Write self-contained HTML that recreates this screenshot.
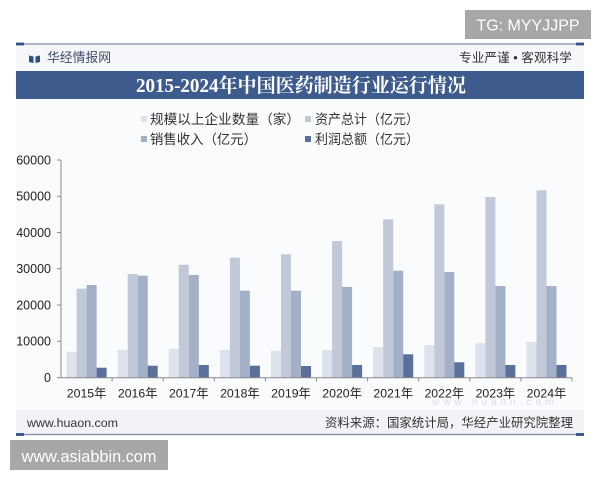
<!DOCTYPE html>
<html><head><meta charset="utf-8"><style>
html,body{margin:0;padding:0;background:#fff;width:600px;height:480px;overflow:hidden}
svg{display:block}
text{font-family:"Liberation Sans","Noto Sans CJK SC",sans-serif}
</style></head><body>
<svg width="600" height="480" viewBox="0 0 600 480" xmlns="http://www.w3.org/2000/svg">
<rect x="0" y="0" width="600" height="480" fill="#ffffff"/>
<!-- TG box -->
<rect x="465" y="10" width="126" height="29" fill="#a7a7a7"/>
<text x="528" y="30.3" font-size="16" fill="#fff" text-anchor="middle">TG: MYYJJPP</text>
<!-- card backgrounds -->
<rect x="16" y="45" width="568" height="26" fill="#f5f7fa"/>
<rect x="16" y="99" width="568" height="311" fill="#fafbfd"/>
<rect x="16" y="410" width="568" height="24" fill="#f1f3f6"/>
<!-- top line -->
<rect x="16" y="43.3" width="568" height="1.4" fill="#8a95a8"/>
<rect x="16" y="42.6" width="8" height="2.8" fill="#34528a"/>
<rect x="576" y="42.6" width="8" height="2.8" fill="#34528a"/>
<!-- header -->
<path d="M29 55.5 L33.5 56.5 L33.5 63 L29 62 Z M35.5 56.5 L40 55.5 L40 62 L35.5 63 Z" fill="#2f4f86"/>
<text x="47" y="62" font-size="12.8" fill="#3d4a66" textLength="64" lengthAdjust="spacingAndGlyphs">华经情报网</text>
<text x="459" y="62" font-size="12.5" fill="#333" textLength="113" lengthAdjust="spacingAndGlyphs">专业严谨 • 客观科学</text>
<!-- title band -->
<rect x="16" y="71" width="568" height="28" fill="#3d5b8d"/>
<text x="301" y="92" font-size="19.5" font-weight="bold" fill="#fff" text-anchor="middle" style="font-family:'Liberation Serif','Noto Serif CJK SC',serif" textLength="330" lengthAdjust="spacingAndGlyphs">2015-2024年中国医药制造行业运行情况</text>
<!-- legend -->
<rect x="141" y="116" width="6" height="6" fill="#dde2ec"/>
<text x="150" y="124" font-size="13.5" fill="#333" textLength="150" lengthAdjust="spacingAndGlyphs">规模以上企业数量（家）</text>
<rect x="305" y="116" width="6" height="6" fill="#c1c9d9"/>
<text x="315" y="124" font-size="13.5" fill="#333" textLength="104" lengthAdjust="spacingAndGlyphs">资产总计（亿元）</text>
<rect x="141" y="136" width="6" height="6" fill="#a3b0c8"/>
<text x="150" y="144" font-size="13.5" fill="#333" textLength="107" lengthAdjust="spacingAndGlyphs">销售收入（亿元）</text>
<rect x="305" y="136" width="6" height="6" fill="#5a6f9a"/>
<text x="315" y="144" font-size="13.5" fill="#333" textLength="104" lengthAdjust="spacingAndGlyphs">利润总额（亿元）</text>
<!-- y axis labels -->
<g font-size="12.5" fill="#222" text-anchor="end">
<text x="51" y="164.5">60000</text>
<text x="51" y="200.7">50000</text>
<text x="51" y="237">40000</text>
<text x="51" y="273.2">30000</text>
<text x="51" y="309.5">20000</text>
<text x="51" y="345.7">10000</text>
<text x="51" y="382">0</text>
</g>
<!-- bars -->
<g id="bars">
<!-- 2015 -->
<rect x="66.6" y="351.7" width="10" height="26" fill="#dde2ec"/>
<rect x="76.6" y="288.7" width="10" height="89" fill="#c1c9d9"/>
<rect x="86.6" y="285" width="10" height="92.7" fill="#a3b0c8"/>
<rect x="96.6" y="367.7" width="10" height="10" fill="#5a6f9a"/>
<!-- 2016 -->
<rect x="117.7" y="350" width="10" height="27.7" fill="#dde2ec"/>
<rect x="127.7" y="274" width="10" height="103.7" fill="#c1c9d9"/>
<rect x="137.7" y="275.7" width="10" height="102" fill="#a3b0c8"/>
<rect x="147.7" y="365.7" width="10" height="12" fill="#5a6f9a"/>
<!-- 2017 -->
<rect x="168.8" y="348.7" width="10" height="29" fill="#dde2ec"/>
<rect x="178.8" y="264.7" width="10" height="113" fill="#c1c9d9"/>
<rect x="188.8" y="275" width="10" height="102.7" fill="#a3b0c8"/>
<rect x="198.8" y="365" width="10" height="12.7" fill="#5a6f9a"/>
<!-- 2018 -->
<rect x="219.9" y="350" width="10" height="27.7" fill="#dde2ec"/>
<rect x="229.9" y="257.7" width="10" height="120" fill="#c1c9d9"/>
<rect x="239.9" y="290.7" width="10" height="87" fill="#a3b0c8"/>
<rect x="249.9" y="365.7" width="10" height="12" fill="#5a6f9a"/>
<!-- 2019 -->
<rect x="271" y="350.7" width="10" height="27" fill="#dde2ec"/>
<rect x="281" y="254.3" width="10" height="123.4" fill="#c1c9d9"/>
<rect x="291" y="290.7" width="10" height="87" fill="#a3b0c8"/>
<rect x="301" y="366" width="10" height="11.7" fill="#5a6f9a"/>
<!-- 2020 -->
<rect x="322.1" y="350" width="10" height="27.7" fill="#dde2ec"/>
<rect x="332.1" y="241" width="10" height="136.7" fill="#c1c9d9"/>
<rect x="342.1" y="287" width="10" height="90.7" fill="#a3b0c8"/>
<rect x="352.1" y="365" width="10" height="12.7" fill="#5a6f9a"/>
<!-- 2021 -->
<rect x="373.2" y="347" width="10" height="30.7" fill="#dde2ec"/>
<rect x="383.2" y="219.3" width="10" height="158.4" fill="#c1c9d9"/>
<rect x="393.2" y="270.7" width="10" height="107" fill="#a3b0c8"/>
<rect x="403.2" y="354.3" width="10" height="23.4" fill="#5a6f9a"/>
<!-- 2022 -->
<rect x="424.3" y="345" width="10" height="32.7" fill="#dde2ec"/>
<rect x="434.3" y="204.3" width="10" height="173.4" fill="#c1c9d9"/>
<rect x="444.3" y="272" width="10" height="105.7" fill="#a3b0c8"/>
<rect x="454.3" y="362.3" width="10" height="15.4" fill="#5a6f9a"/>
<!-- 2023 -->
<rect x="475.4" y="343.3" width="10" height="34.4" fill="#dde2ec"/>
<rect x="485.4" y="197" width="10" height="180.7" fill="#c1c9d9"/>
<rect x="495.4" y="286" width="10" height="91.7" fill="#a3b0c8"/>
<rect x="505.4" y="365" width="10" height="12.7" fill="#5a6f9a"/>
<!-- 2024 -->
<rect x="526.5" y="341.7" width="10" height="36" fill="#dde2ec"/>
<rect x="536.5" y="190.3" width="10" height="187.4" fill="#c1c9d9"/>
<rect x="546.5" y="286" width="10" height="91.7" fill="#a3b0c8"/>
<rect x="556.5" y="365" width="10" height="12.7" fill="#5a6f9a"/>
</g>
<!-- axes -->
<g stroke="#8a8a8a" stroke-width="1" fill="none">
<line x1="61" y1="160" x2="61" y2="378"/>
<line x1="61" y1="377.7" x2="572" y2="377.7"/>
<line x1="57" y1="160" x2="61" y2="160"/>
<line x1="57" y1="196.25" x2="61" y2="196.25"/>
<line x1="57" y1="232.5" x2="61" y2="232.5"/>
<line x1="57" y1="268.75" x2="61" y2="268.75"/>
<line x1="57" y1="305" x2="61" y2="305"/>
<line x1="57" y1="341.25" x2="61" y2="341.25"/>
<line x1="57" y1="377.7" x2="61" y2="377.7"/>
<line x1="112.1" y1="377.7" x2="112.1" y2="381.5"/>
<line x1="163.2" y1="377.7" x2="163.2" y2="381.5"/>
<line x1="214.3" y1="377.7" x2="214.3" y2="381.5"/>
<line x1="265.4" y1="377.7" x2="265.4" y2="381.5"/>
<line x1="316.5" y1="377.7" x2="316.5" y2="381.5"/>
<line x1="367.6" y1="377.7" x2="367.6" y2="381.5"/>
<line x1="418.7" y1="377.7" x2="418.7" y2="381.5"/>
<line x1="469.8" y1="377.7" x2="469.8" y2="381.5"/>
<line x1="520.9" y1="377.7" x2="520.9" y2="381.5"/>
<line x1="572" y1="377.7" x2="572" y2="381.5"/>
</g>
<!-- x labels -->
<g font-size="12.3" fill="#222" text-anchor="middle">
<text x="86.6" y="397.5">2015年</text>
<text x="137.7" y="397.5">2016年</text>
<text x="188.8" y="397.5">2017年</text>
<text x="239.9" y="397.5">2018年</text>
<text x="291" y="397.5">2019年</text>
<text x="342.1" y="397.5">2020年</text>
<text x="393.2" y="397.5">2021年</text>
<text x="444.3" y="397.5">2022年</text>
<text x="495.4" y="397.5">2023年</text>
<text x="546.5" y="397.5">2024年</text>
</g>
<!-- faint watermark -->
<text x="432" y="405" font-size="10" fill="#d9dee6" letter-spacing="4">www.huaon.com</text>
<!-- footer -->
<text x="27" y="427" font-size="12.4" fill="#333" textLength="91" lengthAdjust="spacingAndGlyphs">www.huaon.com</text>
<text x="325" y="427" font-size="12.4" fill="#333" textLength="248" lengthAdjust="spacingAndGlyphs">资料来源：国家统计局，华经产业研究院整理</text>
<rect x="16" y="433.8" width="568" height="1.4" fill="#8a95a8"/>
<rect x="16" y="433.1" width="8" height="2.8" fill="#34528a"/>
<rect x="576" y="433.1" width="8" height="2.8" fill="#34528a"/>
<!-- asiabbin box -->
<rect x="10" y="440" width="158" height="30" fill="#a7a7a7"/>
<text x="89" y="461.8" font-size="16.3" fill="#fff" text-anchor="middle">www.asiabbin.com</text>
</svg>
</body></html>
